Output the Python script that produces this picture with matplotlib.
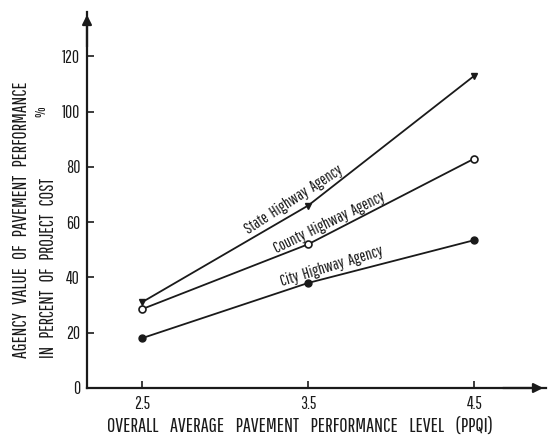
import matplotlib
matplotlib.use("Agg")
import matplotlib.pyplot as plt

plt.rcParams['font.family'] = ['Pathway Gothic One', 'Roboto Condensed', 'DejaVu Sans']

ppqi = [2.5, 3.5, 4.5]
state = [31, 66, 113]
county = [28.5, 52, 83]
city = [18, 38, 53.5]
yticks = [0, 20, 40, 60, 80, 100, 120]
xticks = [2.5, 3.5, 4.5]

W, H = 552, 437
fig = plt.figure(figsize=(W / 100, H / 100), dpi=100)
fig.patch.set_facecolor('white')
ax = fig.add_axes([87 / W, 1 - 388 / H, (546 - 87) / W, (388 - 12) / H])
ax.set_xlim(2.17, 4.93)
ax.set_ylim(0, 136)

ink = '#1a1a1a'
ax.plot(ppqi, state, color=ink, lw=1.3, marker='v', ms=4.5, mfc=ink, mec=ink)
ax.plot(ppqi, county, color=ink, lw=1.3, marker='o', ms=5, mfc='white', mec=ink, mew=1.2)
ax.plot(ppqi, city, color=ink, lw=1.3, marker='o', ms=5, mfc=ink, mec=ink)

for s in ['top', 'right']:
    ax.spines[s].set_visible(False)
for s in ['left', 'bottom']:
    ax.spines[s].set_linewidth(1.6)
    ax.spines[s].set_color(ink)

ax.annotate('', xy=(1.0, 0), xytext=(0.9, 0), xycoords='axes fraction',
            arrowprops=dict(arrowstyle='-|>', color=ink, lw=1.6, mutation_scale=14))
ax.annotate('', xy=(0, 1.0), xytext=(0, 0.9), xycoords='axes fraction',
            arrowprops=dict(arrowstyle='-|>', color=ink, lw=1.6, mutation_scale=14))

ax.set_xticks(xticks)
ax.set_xticklabels([str(x) for x in xticks])
ax.set_yticks(yticks)
ax.set_yticklabels([str(y) for y in yticks])
ax.tick_params(axis='both', direction='in', length=5, width=1.2, colors=ink, labelsize=12.5)
ax.tick_params(axis='y', pad=5)
ax.tick_params(axis='x', pad=6)

fig.text(300 / W, 1 - 426 / H,
         'OVERALL    AVERAGE    PAVEMENT    PERFORMANCE    LEVEL    (PPQI)',
         ha='center', va='center', fontsize=14.5, color=ink)

fig.text(22 / W, 1 - 358 / H, 'AGENCY   VALUE   OF   PAVEMENT   PERFORMANCE',
         rotation=90, ha='center', va='bottom', fontsize=14, color=ink)
fig.text(49 / W, 1 - 358 / H, 'IN   PERCENT   OF   PROJECT   COST',
         rotation=90, ha='center', va='bottom', fontsize=13.5, color=ink)
fig.text(41 / W, 1 - 112 / H, '%', rotation=90, ha='center', va='center',
         fontsize=11, color=ink)

ax.text(3.41, 68, 'State  Highway  Agency', rotation=33, ha='center', va='center',
        fontsize=11.5, color=ink, rotation_mode='anchor')
ax.text(3.63, 60, 'County  Highway  Agency', rotation=26, ha='center', va='center',
        fontsize=11.5, color=ink, rotation_mode='anchor')
ax.text(3.64, 44, 'City  Highway  Agency', rotation=17, ha='center', va='center',
        fontsize=11.5, color=ink, rotation_mode='anchor')

fig.savefig('out.png', dpi=100, facecolor='white')
